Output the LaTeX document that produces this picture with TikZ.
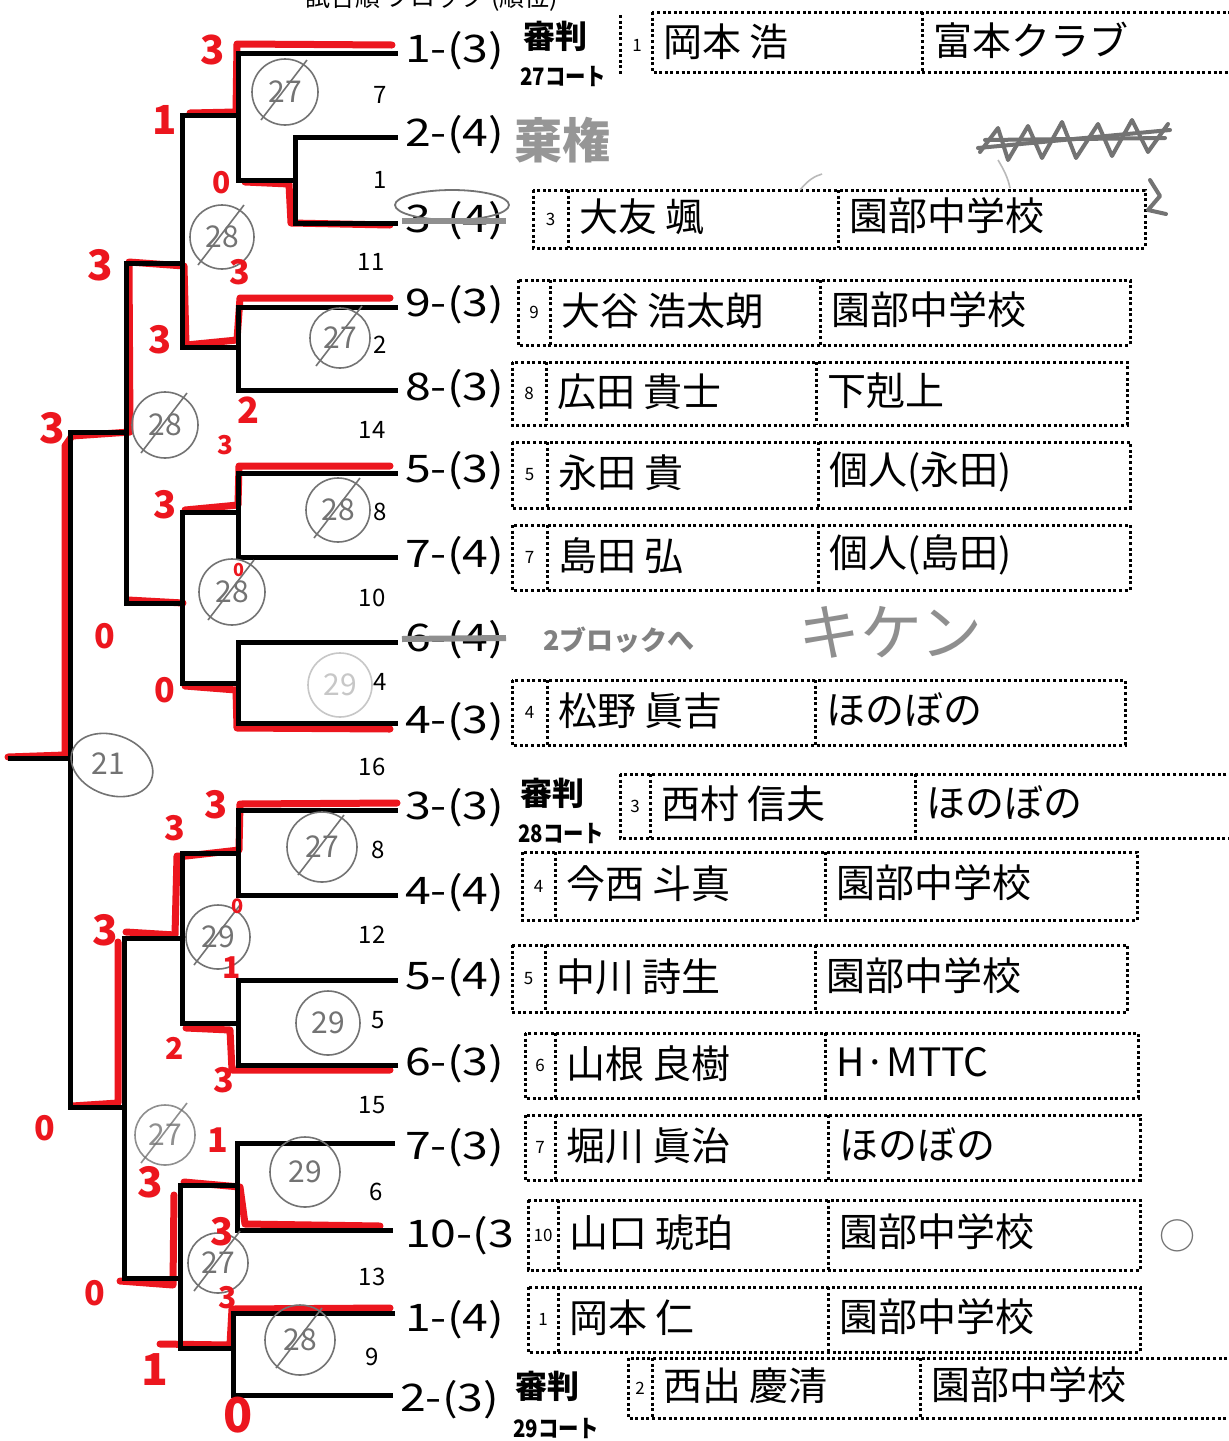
\documentclass[tikz,border=0pt]{standalone}
\usepackage{fontspec}
\setmainfont{Noto Sans CJK JP}
\definecolor{pen}{RGB}{236,22,30}
\definecolor{pencil}{RGB}{115,115,115}
\newcommand\entrylab[1]{\scalebox{1.22}[1]{#1}}
\newcommand\courtlab[1]{\scalebox{0.85}[1]{\bfseries #1}}
\tikzset{
  br/.style={line width=5pt, line cap=rect},
  win/.style={draw=pen, line width=7pt, line cap=round, line join=round},
  dotline/.style={line width=3pt, dash pattern=on 3pt off 2.6pt},
  lbl/.style={anchor=west, inner sep=0pt, font=\fontsize{38}{38}\selectfont},
  mno/.style={inner sep=0pt, font=\fontsize{24}{24}\selectfont},
  jtext/.style={anchor=west, inner sep=0pt, font=\fontsize{39}{39}\selectfont},
  numtext/.style={inner sep=0pt, font=\fontsize{17}{17}\selectfont},
  judge/.style={anchor=west, inner sep=0pt, font=\fontsize{32}{32}\selectfont\bfseries},
  court/.style={anchor=west, inner sep=0pt, font=\fontsize{24}{24}\selectfont},
  circ/.style={draw=pencil, line width=1.6pt},
  hand/.style={anchor=west, inner sep=0pt, text=pencil},
  scrib/.style={draw=pencil, line width=4pt, line cap=round, line join=round},
}
\begin{document}
\begin{tikzpicture}[x=1pt,y=-1pt]
\useasboundingbox (0,0) rectangle (1229,1441);
\fill[white] (0,0) rectangle (1229,1441);

% header (cut off at the top edge, as in the scan)
\node[anchor=west, inner sep=0pt, font=\fontsize{25}{25}\selectfont] (hdr) at (305,-2) {試合順 ブロック (順位)};

% ---------- line ends and joints ----------
\coordinate (E1) at (395,53);   \coordinate (E2) at (395,137);  \coordinate (E3) at (395,223);
\coordinate (E4) at (395,307);  \coordinate (E5) at (395,390);  \coordinate (E6) at (395,473);
\coordinate (E7) at (395,557);  \coordinate (E8) at (395,642);  \coordinate (E9) at (395,723);
\coordinate (E10) at (395,810); \coordinate (E11) at (395,895); \coordinate (E12) at (395,980);
\coordinate (E13) at (395,1065);\coordinate (E14) at (392,1143);\coordinate (E15) at (390,1230);
\coordinate (E16) at (392,1313);\coordinate (E17) at (390,1395);

\coordinate (a1) at (295,180);  \coordinate (a7) at (238,115);  \coordinate (a2) at (238,347);
\coordinate (a11) at (182,263); \coordinate (a8) at (238,512);  \coordinate (a4) at (238,683);
\coordinate (a10) at (182,603); \coordinate (a14) at (126,432);
\coordinate (b8) at (238,853);  \coordinate (b5) at (238,1023); \coordinate (b12) at (182,938);
\coordinate (b6) at (237,1185); \coordinate (b9) at (233,1348); \coordinate (b13) at (180,1278);
\coordinate (b15) at (124,1107);\coordinate (fin) at (70,758);  \coordinate (root) at (10,758);

% ---------- red winner strokes ----------
\draw[win] (392,45) -- (237,44) -- (236,112) -- (190,113);
\draw[win] (390,225) -- (291,223) -- (289,184) -- (245,182);
\draw[win] (390,298) -- (240,298) -- (237,340) -- (186,345) -- (184,266) -- (129,262) -- (130,432) -- (72,436) -- (65,446) -- (65,755) -- (8,757);
\draw[win] (390,466) -- (239,466) -- (238,505) -- (185,510);
\draw[win] (128,600) -- (183,603);
\draw[win] (390,729) -- (237,728) -- (236,690) -- (185,686);
\draw[win] (397,803) -- (240,804) -- (239,850) -- (186,856) -- (177,856) -- (175,935) -- (126,932);
\draw[win] (118,942) -- (118,1103) -- (72,1106);
\draw[win] (390,1070) -- (232,1070) -- (230,1030) -- (186,1028);
\draw[win] (380,1226) -- (245,1224) -- (240,1187) -- (184,1182);
\draw[win] (174,1195) -- (173,1285) -- (120,1281);
\draw[win] (390,1308) -- (232,1309) -- (230,1345) -- (160,1344);

% ---------- black bracket ----------
\draw[br] (E2) -| (a1) |- (E3);
\draw[br] (E1) -| (a7) |- (a1);
\draw[br] (E4) -| (a2) |- (E5);
\draw[br] (a7) -| (a11) |- (a2);
\draw[br] (E6) -| (a8) |- (E7);
\draw[br] (E8) -| (a4) |- (E9);
\draw[br] (a8) -| (a10) |- (a4);
\draw[br] (a11) -| (a14) |- (a10);
\draw[br] (E10) -| (b8) |- (E11);
\draw[br] (E12) -| (b5) |- (E13);
\draw[br] (b8) -| (b12) |- (b5);
\draw[br] (E14) -| (b6) |- (E15);
\draw[br] (E16) -| (b9) |- (E17);
\draw[br] (b6) -| (b13) |- (b9);
\draw[br] (b12) -| (b15) |- (b13);
\draw[br] (a14) -| (fin) |- (b15);
\draw[br] (fin) -- (root);

% ---------- entry labels ----------
\node[lbl] (e1) at (405,51) {\entrylab{1-(3)}};
\node[lbl] (e2) at (405,135) {\entrylab{2-(4)}};
\node[lbl] (e3) at (405,221) {\entrylab{3-(4)}};
\node[lbl] (e4) at (405,305) {\entrylab{9-(3)}};
\node[lbl] (e5) at (405,389) {\entrylab{8-(3)}};
\node[lbl] (e6) at (405,471) {\entrylab{5-(3)}};
\node[lbl] (e7) at (405,556) {\entrylab{7-(4)}};
\node[lbl] (e8) at (405,640) {\entrylab{6-(4)}};
\node[lbl] (e9) at (405,722) {\entrylab{4-(3)}};
\node[lbl] (e10) at (405,808) {\entrylab{3-(3)}};
\node[lbl] (e11) at (405,893) {\entrylab{4-(4)}};
\node[lbl] (e12) at (405,978) {\entrylab{5-(4)}};
\node[lbl] (e13) at (405,1064) {\entrylab{6-(3)}};
\node[lbl] (e14) at (405,1148) {\entrylab{7-(3)}};
\node[lbl] (e15) at (405,1236) {\entrylab{10-(3}};
\node[lbl] (e16) at (405,1320) {\entrylab{1-(4)}};
\node[lbl] (e17) at (400,1400) {\entrylab{2-(3)}};

% ---------- match numbers ----------
\foreach \x/\y/\t [count=\i] in {380/95/7, 380/180/1, 371/262/11, 380/345/2, 372/430/14, 380/512/8,
  372/598/10, 380/682/4, 372/767/16, 378/850/8, 372/935/12, 378/1020/5, 372/1105/15, 376/1192/6,
  372/1277/13, 372/1357/9}
  \node[mno] (mn\i) at (\x,\y) {\t};

% ---------- judge / court labels ----------
\node[judge] (j1) at (523,36) {審判};
\node[court] (c1) at (520,76) {\courtlab{27コート}};
\node[judge] (j2) at (520,793) {審判};
\node[court] (c2) at (518,833) {\courtlab{28コート}};
\node[judge] (j3) at (515,1386) {審判};
\node[court] (c3) at (513,1428) {\courtlab{29コート}};

% ---------- first row box ----------
\draw[dotline] (620,15) -- (620,75);
\node[numtext] (n1) at (637,45) {1};
\draw[dotline] (652,12) rectangle (1240,72);
\draw[dotline] (922,12) -- (922,72);
\node[jtext] (p1) at (663,42) {岡本 浩};
\node[jtext] (t1) at (933,40) {富本クラブ};

% ---------- other boxes ----------
\foreach \l/\n/\d/\r/\t/\b/\num/\nm/\tm [count=\i] in {
  533/568/838/1145/190/248/3/大友 颯/園部中学校,
  518/550/820/1130/280/345/9/大谷 浩太朗/園部中学校,
  512/546/816/1127/362/425/8/広田 貴士/下剋上,
  512/547/818/1130/442/508/5/永田 貴/個人(永田),
  512/547/818/1130/525/590/7/島田 弘/個人(島田),
  512/547/815/1125/680/745/4/松野 眞吉/ほのぼの,
  620/650/915/1240/774/838/3/西村 信夫/ほのぼの,
  522/555/825/1137/852/920/4/今西 斗真/園部中学校,
  512/545/815/1127/945/1012/5/中川 詩生/園部中学校,
  525/555/825/1138/1033/1098/6/山根 良樹/H·MTTC,
  525/555/828/1140/1115/1180/7/堀川 眞治/ほのぼの,
  528/558/828/1140/1200/1270/10/山口 琥珀/園部中学校,
  528/558/828/1140/1287/1352/1/岡本 仁/園部中学校,
  628/652/920/1240/1358/1418/2/西出 慶清/園部中学校}
{
  \draw[dotline] (\l,\t) rectangle (\r,\b);
  \draw[dotline] (\n,\t) -- (\n,\b);
  \draw[dotline] (\d,\t) -- (\d,\b);
  \node[numtext] (bn\i) at ({(\l+\n)/2},{(\t+\b)/2}) {\num};
  \node[jtext] (bp\i) at (\n+11,{(\t+\b)/2-2}) {\nm};
  \node[jtext] (bt\i) at (\d+11,{(\t+\b)/2-3}) {\tm};
}

% ---------- pencil notes ----------
\node[hand, font=\fontsize{48}{48}\selectfont\bfseries, text=pencil!75] (kiken1) at (514,140) {棄権};
\draw[draw=pencil, line width=1.8pt] (452,205) ellipse (57 and 15);
\draw[draw=pencil!80, line width=6pt] (402,221) -- (506,221);
\draw[draw=pencil!80, line width=6pt] (402,639) -- (506,638);
\node[hand, font=\fontsize{27}{27}\selectfont\bfseries, text=pencil!90] (blk) at (543,640) {2ブロックへ};
\node[hand, font=\fontsize{62}{62}\selectfont, text=pencil!80] (kiken2) at (798,632) {キケン};
\node[inner sep=0pt, font=\fontsize{36}{36}\selectfont, text=pencil] (maru) at (1177,1236) {○};
% crossed-out writing at top right
\draw[scrib] (980,152) -- (998,128) -- (1008,160) -- (1028,126) -- (1042,158) -- (1062,122) -- (1076,158) -- (1098,124) -- (1112,156) -- (1132,120) -- (1148,152) -- (1168,124);
\draw[scrib] (978,148) -- (1170,130);
\draw[scrib] (985,140) -- (1165,138);
\draw[scrib] (1150,180) -- (1160,196) -- (1148,210) -- (1166,214);
\draw[draw=pencil!50, line width=1.6pt] (800,190) .. controls (808,180) and (815,176) .. (822,174);
\draw[draw=pencil!50, line width=1.6pt] (998,160) .. controls (1004,170) and (1008,178) .. (1010,188);

% pencil court circles
\foreach \x/\y/\r/\t/\c/\o [count=\i] in {285/92/33/27/1/1, 222/237/32/28/1/1, 340/338/30/27/1/1,
  165/425/33/28/1/1, 338/510/32/28/1/1, 232/592/33/28/1/1, 340/685/32/29/0/0.4, 322/847/35/27/1/1,
  218/937/32/29/1/1, 328/1023/32/29/0/1, 165/1135/30/27/1/0.8, 305/1172/35/29/0/1, 218/1263/30/27/1/1,
  300/1340/35/28/1/1}
{
  \draw[circ, opacity=\o] (\x,\y) circle (\r);
  \node[inner sep=0pt, text=pencil, opacity=\o, font=\fontsize{30}{30}\selectfont] (g\i) at (\x,\y) {\t};
  \ifnum\c=1 \draw[circ, opacity=\o] (\x-24,\y+28) -- (\x+22,\y-32); \fi
}
\draw[circ, rotate around={-20:(112,765)}] (112,765) ellipse (42 and 30);
\node[inner sep=0pt, text=pencil, font=\fontsize{30}{30}\selectfont] (g21) at (108,764) {21};

% red scores
\foreach \x/\y/\t/\s [count=\i] in {213/50/3/40, 165/120/1/40, 222/183/0/30, 100/265/3/42, 240/272/3/34,
  160/340/3/38, 248/410/2/36, 52/428/3/42, 225/445/3/26, 165/505/3/38, 239/570/0/18, 105/636/0/34,
  165/690/0/34, 216/805/3/38, 175/828/3/34, 105/930/3/42, 238/906/0/20, 232/968/1/30, 175/1048/2/30,
  224/1080/3/34, 45/1128/0/34, 218/1140/1/34, 150/1182/3/42, 222/1232/3/38, 228/1298/3/30,
  95/1293/0/34, 155/1370/1/44, 238/1415/0/48}
  \node[inner sep=0pt, text=pen, font=\fontsize{\s}{\s}\selectfont\bfseries] (s\i) at (\x,\y) {\t};
\end{tikzpicture}
\end{document}
